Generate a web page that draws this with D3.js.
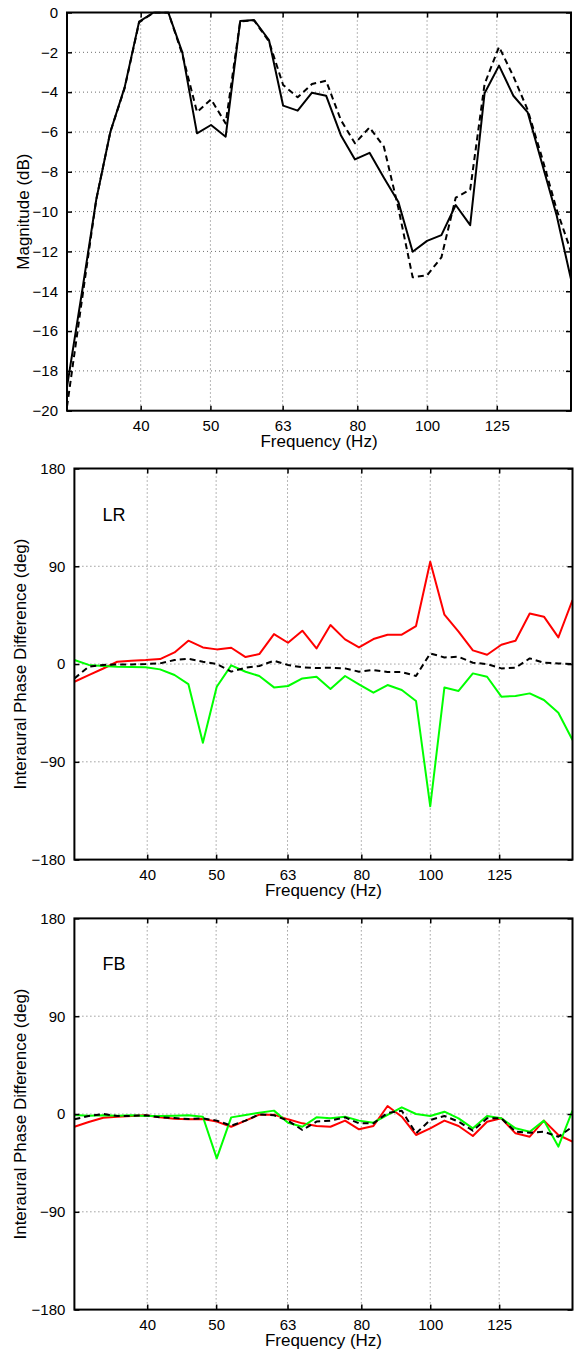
<!DOCTYPE html>
<html>
<head>
<meta charset="utf-8">
<script src="https://cdn.jsdelivr.net/npm/d3@7"></script>
<style>
  body { margin: 0; background: #fff; }
  svg { display: block; font-family: "Liberation Sans", Arial, sans-serif; }
</style>
</head>
<body>
<svg id="chart"></svg>
<script>
// band centre frequencies (Hz)
const freqs = [31.6, 33.1, 34.7, 36.3, 38.0, 39.8, 41.7, 43.7, 45.7, 47.9, 50.1, 52.5,
    55.0, 57.5, 60.3, 63.1, 66.1, 69.2, 72.4, 75.9, 79.4, 83.2, 87.1, 91.2, 95.5, 100,
    104.7, 109.6, 114.8, 120.2, 125.9, 131.8, 138.0, 144.5, 151.4, 158.5];

const freqTicks = [40, 50, 63, 80, 100, 125];
const magTicks = [0, -2, -4, -6, -8, -10, -12, -14, -16, -18, -20];
const phaseTicks = [180, 90, 0, -90, -180];

// magnitude (dB)
const magSolid = [-18.8, -14.2, -9.4, -6.0, -3.76, -0.46, 0, 0, -2.0, -6.07, -5.65, -6.24,
    -0.43, -0.38, -1.38, -4.68, -4.93, -4.03, -4.18, -6.16, -7.38, -7.05, -8.3, -9.5,
    -12.02, -11.47, -11.18, -9.67, -10.68, -4.06, -2.67, -4.18, -5.02, -7.6, -10.2, -13.4];
const magDashed = [-19.8, -14.6, -9.4, -6.0, -3.8, -0.5, 0, 0, -2.1, -5.0, -4.36, -5.57,
    -0.45, -0.4, -1.45, -3.64, -4.26, -3.59, -3.43, -5.4, -6.57, -5.77, -6.74, -9.8,
    -13.3, -13.2, -12.3, -9.3, -8.9, -3.6, -1.72, -3.2, -4.9, -7.3, -9.9, -12.0];

// interaural phase difference, LR (deg)
const lrRed = [-16.3, -10.2, -4.1, 2.1, 3.1, 3.7, 4.6, 10.7, 21.5, 15.3, 13.5, 15.0,
    6.4, 9.2, 27.6, 19.6, 30.7, 14.4, 35.9, 22.7, 15.3, 23.0, 27.0, 27.0,
    35.0, 94.2, 45.4, 29.8, 12.6, 8.6, 17.8, 21.5, 46.6, 43.6, 24.5, 58.9];
const lrDashed = [-13.2, -2.5, -0.8, -0.5, -0.3, 0, 0.6, 3.7, 4.9, 2.1, 0, -7,
    -3.4, -1.8, 3.1, -0.9, -3, -3.7, -3.4, -4, -7, -5.5, -7.4, -7.4,
    -11, 9.8, 6.1, 6.7, 1.2, 0, -4, -3.4, 5.2, 1.2, 0.6, 0];
const lrGreen = [3.7, -0.8, -1.8, -2.5, -2.8, -3, -4.9, -10.1, -18.4, -72.4, -20.9, -1.2,
    -7.1, -11, -21.5, -20.2, -13.2, -11.7, -23, -11, -18.7, -26.4, -19.3, -23.9,
    -34, -131, -21.5, -24.8, -8.6, -11.7, -30, -29.4, -27, -33.1, -44.8, -69.9];

// interaural phase difference, FB (deg)
const fbRed = [-11.7, -7.4, -3.5, -2.5, -1.8, -1.2, -3, -4.3, -4.9, -4.6, -7, -11.7,
    -6.1, -0.6, -0.6, -4.9, -8.6, -11, -11.7, -6.1, -14.1, -11, 7.4, -2.5,
    -19.3, -13.2, -6.1, -11, -20.2, -7.1, -4, -17.8, -20.9, -6.1, -19.3, -25.5];
const fbDashed = [-4.9, -1.8, 0, -1.8, -1.8, -1.2, -3, -3.7, -4.6, -4, -6.1, -10.7,
    -6.1, -0.3, -1.2, -6.1, -14.7, -7, -6.1, -3.1, -8.6, -8.6, 1, 3,
    -17.8, -5.5, -1.8, -7, -15.3, -4, -4, -16.3, -17.2, -16.3, -20.9, -11.7];
const fbGreen = [-0.9, -1.5, -1.2, -1.5, -1.2, -1.8, -1.8, -1.5, -1.2, -2.5, -40.8, -3.1,
    -0.9, 1.2, 3.1, -8, -11.7, -3.1, -4, -2.5, -6.1, -8, -0.9, 6.1,
    0, -1.8, 2.1, -4, -13.2, -1.8, -4, -13.2, -16.3, -6.1, -30, 3.1];

const width = 581;
const height = 1351;

const svg = d3.select("#chart")
    .attr("width", width)
    .attr("height", height);

svg.append("rect").attr("width", width).attr("height", height).attr("fill", "#fff");

const fmt = d => d < 0 ? "\u2212" + Math.abs(d) : String(d);

function panel(opts) {
    const { left, right, top, bottom, yDomain, yTicks, yLabel, labelX, series, tag, id } = opts;

    const x = d3.scaleLog().domain([freqs[0], freqs[freqs.length - 1]]).range([left, right]);
    const y = d3.scaleLinear().domain(yDomain).range([bottom, top]);

    const g = svg.append("g");

    g.append("clipPath").attr("id", id)
        .append("rect")
        .attr("x", left).attr("y", top - 1)
        .attr("width", right - left).attr("height", bottom - top + 2);

    // dotted grid
    g.append("g")
        .selectAll("line")
        .data(freqTicks)
        .join("line")
        .attr("x1", d => x(d)).attr("x2", d => x(d))
        .attr("y1", top).attr("y2", bottom)
        .attr("stroke", "#6e6e6e").attr("stroke-width", 1)
        .attr("stroke-dasharray", "1,3");

    g.append("g")
        .selectAll("line")
        .data(yTicks.filter(d => d !== yDomain[0] && d !== yDomain[1]))
        .join("line")
        .attr("x1", left).attr("x2", right)
        .attr("y1", d => y(d)).attr("y2", d => y(d))
        .attr("stroke", "#6e6e6e").attr("stroke-width", 1)
        .attr("stroke-dasharray", "1,3");

    // data lines
    const line = d3.line()
        .x((d, i) => x(freqs[i]))
        .y(d => y(d));

    const lines = g.append("g").attr("clip-path", `url(#${id})`);
    series.forEach(s => {
        lines.append("path")
            .attr("d", line(s.values))
            .attr("fill", "none")
            .attr("stroke", s.color)
            .attr("stroke-width", 2)
            .attr("stroke-linejoin", "round")
            .attr("stroke-dasharray", s.dashed ? "6,4" : null);
    });

    // axes with inward ticks on all four sides
    const tickLen = 5;
    const axes = g.append("g");

    axes.append("g")
        .attr("transform", `translate(0,${bottom})`)
        .call(d3.axisBottom(x).tickValues(freqTicks).tickFormat(d3.format("d"))
            .tickSizeInner(-tickLen).tickSizeOuter(0).tickPadding(10))
        .call(a => a.select(".domain").remove());

    axes.append("g")
        .attr("transform", `translate(0,${top})`)
        .call(d3.axisTop(x).tickValues(freqTicks).tickFormat("")
            .tickSizeInner(-tickLen).tickSizeOuter(0))
        .call(a => a.select(".domain").remove());

    axes.append("g")
        .attr("transform", `translate(${left},0)`)
        .call(d3.axisLeft(y).tickValues(yTicks).tickFormat(fmt)
            .tickSizeInner(-tickLen).tickSizeOuter(0).tickPadding(9))
        .call(a => a.select(".domain").remove());

    axes.append("g")
        .attr("transform", `translate(${right},0)`)
        .call(d3.axisRight(y).tickValues(yTicks).tickFormat("")
            .tickSizeInner(-tickLen).tickSizeOuter(0))
        .call(a => a.select(".domain").remove());

    axes.selectAll(".tick line").attr("stroke", "#000").attr("stroke-width", 1.5);
    axes.selectAll(".tick text")
        .attr("fill", "#000")
        .style("font-size", "15px")
        .style("font-family", "Liberation Sans, Arial, sans-serif");

    g.append("rect")
        .attr("x", left).attr("y", top)
        .attr("width", right - left).attr("height", bottom - top)
        .attr("fill", "none").attr("stroke", "#000").attr("stroke-width", 2);

    g.append("text")
        .attr("x", (left + right) / 2)
        .attr("y", bottom + 36)
        .attr("text-anchor", "middle")
        .style("font-size", "17px")
        .text("Frequency (Hz)");

    g.append("text")
        .attr("transform", `translate(${labelX},${(top + bottom) / 2}) rotate(-90)`)
        .attr("text-anchor", "middle")
        .style("font-size", "17px")
        .text(yLabel);

    if (tag) {
        g.append("text")
            .attr("x", left + 28)
            .attr("y", top + 52)
            .style("font-size", "18px")
            .text(tag);
    }
}

panel({
    id: "clipMag", left: 67, right: 571, top: 12.5, bottom: 410.7,
    yDomain: [-20, 0], yTicks: magTicks, yLabel: "Magnitude (dB)", labelX: 29,
    series: [
        { values: magDashed, color: "#000", dashed: true },
        { values: magSolid, color: "#000", dashed: false }
    ]
});

panel({
    id: "clipLR", left: 74.4, right: 572.5, top: 468.5, bottom: 859.6,
    yDomain: [-180, 180], yTicks: phaseTicks, yLabel: "Interaural Phase Difference (deg)", labelX: 26,
    tag: "LR",
    series: [
        { values: lrRed, color: "#ff0000", dashed: false },
        { values: lrGreen, color: "#00ff00", dashed: false },
        { values: lrDashed, color: "#000", dashed: true }
    ]
});

panel({
    id: "clipFB", left: 74.4, right: 572.5, top: 918.4, bottom: 1309.6,
    yDomain: [-180, 180], yTicks: phaseTicks, yLabel: "Interaural Phase Difference (deg)", labelX: 26,
    tag: "FB",
    series: [
        { values: fbRed, color: "#ff0000", dashed: false },
        { values: fbGreen, color: "#00ff00", dashed: false },
        { values: fbDashed, color: "#000", dashed: true }
    ]
});
</script>
</body>
</html>
